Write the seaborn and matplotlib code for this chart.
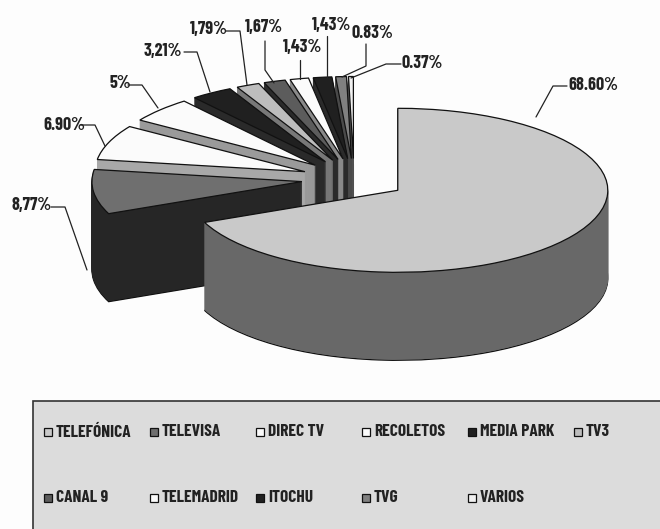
import numpy as np
import seaborn as sns
import matplotlib
matplotlib.use("Agg")
import matplotlib.pyplot as plt
from matplotlib.patches import Rectangle

# chart data
names = ['TELEFÓNICA', 'TELEVISA', 'DIREC TV', 'RECOLETOS', 'MEDIA PARK', 'TV3',
         'CANAL 9', 'TELEMADRID', 'ITOCHU', 'TVG', 'VARIOS']
shares = [68.60, 8.77, 6.90, 5, 3.21, 1.79, 1.67, 1.43, 1.43, 0.83, 0.37]
pct_labels = ['68.60%', '8,77%', '6.90%', '5%', '3,21%', '1,79%', '1,67%', '1,43%', '1,43%', '0.83%', '0.37%']

# styling, one entry per slice
top_colors = ['#c9c9c9', '#6f6f6f', '#fbfbfb', '#fbfbfb', '#202020', '#bdbdbd',
              '#5c5c5c', '#fbfbfb', '#202020', '#808080', '#f0f0f0']
side_colors = ['#686868', '#262626', '#a8a8a8', '#9a9a9a', '#2a2a2a', '#787878',
               '#2a2a2a', '#8a8a8a', '#2a2a2a', '#4a4a4a', '#505050']

# label layout in pixels: text anchor (left, centre y), then leader line points
label_pos = [(568, 86), (12, 206), (43, 125), (109, 84), (144, 52), (190, 30),
             (245, 27), (283, 48), (312, 25), (352, 33), (402, 64)]
leaders = [[(567, 86), (553, 86), (536, 117)],
           [(51, 207), (65, 207), (87, 270)],
           [(81, 125), (95, 125), (105, 146)],
           [(128, 85), (142, 85), (158, 108)],
           [(184, 52), (197, 52), (210, 92)],
           [(226, 31), (240, 31), (247, 85)],
           [(265, 41), (265, 70), (274, 83)],
           [(300, 60), (300, 79)],
           [(327, 36), (327, 78)],
           [(366, 44), (366, 66), (342, 77)],
           [(401, 64), (386, 64), (351, 78)]]

# legend grid
legend_cols = [44, 150, 256, 362, 468, 574]
legend_rows = [432, 498]

# pie geometry in pixels
cx, cy = 354, 179
rx, ry = 210, 82
depth = 88
explode = 0.25

sns.set_theme(style="white")
plt.rcParams['font.family'] = ['Barlow Condensed', 'Archivo Narrow', 'Liberation Sans', 'DejaVu Sans']

fig = plt.figure(figsize=(6.6, 5.29), dpi=100, facecolor='#fdfdfd')
ax = fig.add_axes([0, 0, 1, 1])

# extruded look: stack of pies going down, back slices painted first
n = len(shares)
for d in list(range(depth, 0, -1)) + [0]:
    is_top = d == 0
    wedges, _ = ax.pie(shares, explode=[explode] * n, startangle=90, counterclock=False,
                       colors=top_colors if is_top else side_colors,
                       center=(0, -d / ry), radius=1,
                       wedgeprops={'linewidth': 0.9 if is_top or d == depth else 0.6})
    for i, w in enumerate(wedges):
        w.set_zorder(10 + (n - i))
        if is_top or d == depth:
            w.set_edgecolor('#111111')
        else:
            w.set_edgecolor(side_colors[i])

ax.set_aspect('auto')
ax.set_xlim((0 - cx) / rx, (660 - cx) / rx)
ax.set_ylim((cy - 529) / ry, cy / ry)
ax.axis('off')

# overlay in pixel coordinates for labels and legend box
over = fig.add_axes([0, 0, 1, 1], zorder=5)
over.set_xlim(0, 660)
over.set_ylim(529, 0)
over.axis('off')

for label, (x, y), line in zip(pct_labels, label_pos, leaders):
    over.text(x, y, label, fontsize=13, fontweight='bold', color='#222222', ha='left', va='center')
    xs, ys = zip(*line)
    over.plot(xs, ys, color='#222222', lw=0.9)

over.add_patch(Rectangle((33, 401), 640, 140, facecolor='#dcdcdc', edgecolor='#333333', lw=1.2))

for i, name in enumerate(names):
    row, col = divmod(i, 6)
    x, y = legend_cols[col], legend_rows[row]
    over.add_patch(Rectangle((x, y - 4), 8, 8, facecolor=top_colors[i], edgecolor='#111111', lw=0.9))
    over.text(x + 12, y, name, fontsize=12.5, fontweight='bold', color='#222222', ha='left', va='center')

fig.savefig('out.png', dpi=100, facecolor=fig.get_facecolor())
